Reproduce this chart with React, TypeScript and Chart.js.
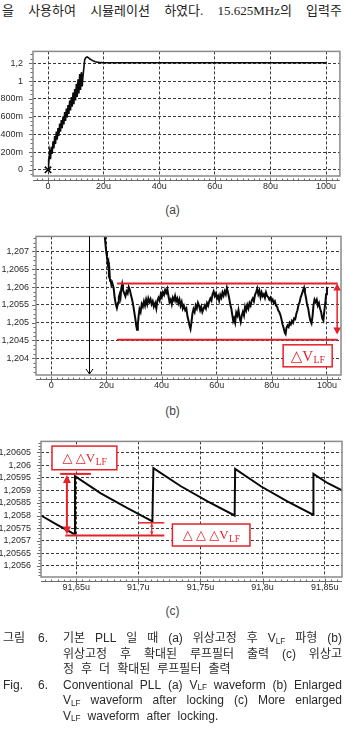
import React, { useEffect, useRef } from "react";
import { Chart, registerables } from "chart.js";

Chart.register(...registerables);

// ---------------- data ----------------
// (a) V_LF waveform, time in microseconds, value in volts
const A_TIME_US = [
  0, 0.15, 0.3, 0.6, 0.9, 1.2, 1.5, 1.8, 2.1, 2.4,
  2.7, 3.0, 3.3, 3.6, 3.9, 4.2, 4.5, 4.8, 5.1, 5.4,
  5.7, 6.0, 6.3, 6.6, 6.9, 7.2, 7.5, 7.8, 8.1, 8.4,
  8.7, 9.0, 9.3, 9.6, 9.9, 10.2, 10.5, 10.8, 11.1, 11.4,
  11.7, 12.0, 12.3, 12.6, 13.2, 13.6, 14.1, 14.6, 15.1, 15.6,
  16.2, 17.0, 17.7, 18.5, 19.5, 21, 100,
];
const A_VLF = [
  0, 0.12, 0.06, 0.2, 0.12, 0.26, 0.18, 0.32, 0.24, 0.38,
  0.29, 0.43, 0.34, 0.47, 0.38, 0.52, 0.43, 0.56, 0.47, 0.6,
  0.51, 0.65, 0.55, 0.69, 0.59, 0.73, 0.63, 0.78, 0.67, 0.82,
  0.71, 0.87, 0.74, 0.91, 0.78, 0.97, 0.82, 1.02, 0.86, 1.08,
  0.9, 1.1, 0.94, 1.06, 1.24, 1.265, 1.272, 1.262, 1.248, 1.238,
  1.228, 1.218, 1.213, 1.209, 1.207, 1.206, 1.2056,
];
const A_START_MARK = [0, 0];
const A_X_TICKS = [0, 20, 40, 60, 80, 100];
const A_X_LABELS = ["0", "20u", "40u", "60u", "80u", "100u"];
const A_Y_TICKS = [0, 0.2, 0.4, 0.6, 0.8, 1, 1.2];
const A_Y_LABELS = ["0", "200m", "400m", "600m", "800m", "1", "1,2"];

// (b) enlarged V_LF after locking
const B_TIME_US = [
  19.2, 19.6, 19.9, 20.2, 20.5, 20.7, 20.9, 21.1, 21.3, 21.5,
  21.8, 22.1, 22.6, 23.0, 23.4, 23.8, 24.2, 24.5, 24.8, 25.1,
  25.4, 25.7, 26.0, 26.4, 26.9, 27.3, 27.7, 28.1, 28.5, 28.9,
  29.3, 29.7, 30.1, 30.5, 30.8, 31.1, 31.4, 31.7, 32.0, 32.4,
  32.8, 33.2, 33.6, 34.0, 34.4, 34.8, 35.2, 35.6, 36.0, 36.4,
  36.8, 37.2, 37.7, 38.1, 38.5, 38.9, 39.3, 39.7, 40.1, 40.5,
  40.9, 41.3, 41.7, 42.1, 42.5, 42.9, 43.3, 43.7, 44.1, 44.5,
  44.9, 45.3, 45.7, 46.1, 46.5, 46.9, 47.3, 47.7, 48.1, 48.6,
  49.0, 49.4, 49.8, 50.2, 50.5, 50.8, 51.2, 51.6, 52.0, 52.4,
  52.8, 53.2, 53.6, 54.0, 54.4, 54.8, 55.3, 55.7, 56.1, 56.5,
  56.9, 57.3, 57.7, 58.1, 58.5, 58.9, 59.3, 59.7, 60.1, 60.5,
  60.9, 61.3, 61.7, 62.1, 62.5, 62.9, 63.3, 63.7, 64.1, 64.5,
  64.9, 65.3, 65.7, 66.0, 66.3, 66.7, 67.1, 67.5, 67.9, 68.3,
  68.7, 69.1, 69.5, 69.9, 70.3, 70.7, 71.1, 71.5, 71.9, 72.3,
  72.7, 73.1, 73.5, 73.9, 74.3, 74.7, 75.1, 75.5, 75.9, 76.3,
  76.7, 77.1, 77.5, 77.9, 78.3, 78.7, 79.1, 79.5, 79.9, 80.3,
  80.7, 81.1, 81.5, 81.9, 82.3, 82.7, 83.1, 83.5, 83.9, 84.3,
  84.7, 85.0, 85.3, 85.7, 86.1, 86.5, 86.9, 87.3, 87.7, 88.1,
  88.5, 88.9, 89.3, 89.7, 90.1, 90.5, 90.9, 91.3, 91.7, 92.0,
  92.4, 92.8, 93.2, 93.6, 94.0, 94.4, 94.8, 95.1, 95.5, 95.9,
  96.3, 96.7, 97.1, 97.5, 97.9, 98.3, 98.7, 99.0, 99.4, 99.7, 100.0,
];
const B_VLF = [
  1.2076, 1.20725, 1.207, 1.20685, 1.20665, 1.2067, 1.2064, 1.20645, 1.20618, 1.20622,
  1.20606, 1.20612, 1.20598, 1.2057, 1.20552, 1.20541, 1.20556, 1.20572, 1.2058, 1.2057,
  1.20596, 1.20608, 1.20592, 1.20584, 1.20574, 1.20588, 1.20582, 1.206, 1.20592, 1.20578,
  1.20565, 1.2055, 1.2053, 1.2051, 1.20492, 1.2048, 1.20495, 1.2052, 1.20538, 1.2053,
  1.20552, 1.20545, 1.2056, 1.20548, 1.20565, 1.20552, 1.20568, 1.20558, 1.20566, 1.20552,
  1.2056, 1.20545, 1.20555, 1.2054, 1.20562, 1.2057, 1.20562, 1.2058, 1.20572, 1.20585,
  1.20578, 1.20592, 1.20584, 1.20594, 1.20575, 1.20558, 1.20565, 1.20552, 1.2057, 1.20563,
  1.20575, 1.2056, 1.20568, 1.20555, 1.20565, 1.20548, 1.20558, 1.2054, 1.20548, 1.20535,
  1.2054, 1.20518, 1.20505, 1.2049, 1.20482, 1.20498, 1.20525, 1.20538, 1.2053, 1.20548,
  1.2054, 1.20556, 1.20548, 1.20535, 1.20545, 1.2053, 1.2054, 1.20548, 1.2054, 1.20555,
  1.20548, 1.2056, 1.20568, 1.20562, 1.2058, 1.20588, 1.20575, 1.20582, 1.20568, 1.20575,
  1.20562, 1.20578, 1.2057, 1.20585, 1.20576, 1.20588, 1.2058, 1.20598, 1.20585, 1.2057,
  1.20552, 1.2054, 1.2052, 1.20505, 1.20512, 1.205, 1.20528, 1.2052, 1.20535, 1.20515,
  1.20502, 1.2052, 1.2053, 1.2052, 1.20545, 1.20535, 1.2055, 1.2054, 1.20555, 1.20548,
  1.20562, 1.20568, 1.2056, 1.20578, 1.20585, 1.20596, 1.2058, 1.2059, 1.20572, 1.20585,
  1.20575, 1.2058, 1.2057, 1.20585, 1.20575, 1.20572, 1.20565, 1.2057, 1.2056, 1.20565,
  1.20555, 1.2056, 1.20548, 1.20545, 1.20535, 1.2053, 1.20522, 1.2051, 1.20495, 1.20485,
  1.20472, 1.20468, 1.20485, 1.20492, 1.20488, 1.205, 1.20495, 1.20505, 1.205, 1.20512,
  1.2051, 1.20525, 1.20535, 1.2055, 1.20558, 1.20572, 1.2058, 1.2059, 1.20598, 1.20585,
  1.2057, 1.2055, 1.2054, 1.2052, 1.20505, 1.20498, 1.2052, 1.20548, 1.20565, 1.20558,
  1.20565, 1.20548, 1.20555, 1.2054, 1.2053, 1.20512, 1.20506, 1.2053, 1.20555, 1.2058, 1.206,
];
const B_X_TICKS = [0, 20, 40, 60, 80, 100];
const B_X_LABELS = ["0", "20u", "40u", "60u", "80u", "100u"];
const B_Y_TICKS = [1.204, 1.2045, 1.205, 1.2055, 1.206, 1.2065, 1.207];
const B_Y_LABELS = ["1,204", "1,2045", "1,205", "1,2055", "1,206", "1,2065", "1,207"];
// (b) annotations, in data units
const B_LOCK_US = 13.5;
const B_BAND_TOP = 1.206098;
const B_BAND_BOTTOM = 1.204522;
const B_BAND_FROM_US = 23.85;
const B_BAND_TO_US = 103.9;
const B_ARROW_US = 103.7;
const B_ARROW_LOW_TIP = 1.204668;
const B_BOX = [84.1, 101.9, 1.204378, 1.20376];

// (c) more enlarged V_LF
const C_TIME_US = [
  91.6217, 91.6348, 91.6478, 91.6488, 91.649, 91.6698, 91.6905, 91.7113, 91.7117, 91.7121,
  91.7339, 91.7557, 91.7775, 91.7777, 91.7779, 91.7989, 91.8199, 91.8406, 91.8408, 91.841,
  91.8525, 91.8639,
];
const C_VLF = [
  1.2058, 1.205763, 1.205728, 1.205728, 1.205956, 1.205888, 1.205831, 1.205777, 1.205777, 1.205988,
  1.205917, 1.205856, 1.2058, 1.2058, 1.205985, 1.205915, 1.205856, 1.205803, 1.205803, 1.205965,
  1.205928, 1.2059,
];
const C_X_TICKS = [91.65, 91.7, 91.75, 91.8, 91.85];
const C_X_LABELS = ["91,65u", "91,7u", "91,75u", "91,8u", "91,85u"];
const C_Y_TICKS = [1.2056, 1.20565, 1.2057, 1.20575, 1.2058, 1.20585, 1.2059, 1.20595, 1.206, 1.20605];
const C_Y_LABELS = ["1,2056", "1,20565", "1,2057", "1,20575", "1,2058", "1,20585", "1,2059", "1,20595", "1,206", "1,20605"];
// (c) annotations, in data units
const C_DD_TOP = 1.205965;
const C_DD_BOTTOM = 1.205721;
const C_DD_TOPLINE_US = [91.6371, 91.6618];
const C_DD_LOWLINE_US = [91.6412, 91.7209];
const C_DD_ARROW_US = 91.6425;
const C_DDD_TOP = 1.205771;
const C_DDD_LINE_US = [91.7, 91.7209];
const C_DDD_MARK_US = 91.7108;
const C_BOX1 = [91.6305, 91.6827, 1.2060753, 1.2059815];
const C_BOX2 = [91.7274, 91.7898, 1.2057662, 1.205679];

const TOP_WORDS = ["을", "사용하여", "시뮬레이션", "하였다.", "15.625MHz의", "입력주"];
const CAPTION_KO = [
  ["기본", "PLL", "일", "때", "(a)", "위상고정", "후", "V_LF", "파형", "(b)"],
  ["위상고정", "후", "확대된", "루프필터", "출력", "(c)", "위상고"],
  ["정", "후", "더", "확대된", "루프필터", "출력"],
];
const CAPTION_EN = [
  ["Conventional", "PLL", "(a)", "V_LF", "waveform", "(b)", "Enlarged"],
  ["V_LF", "waveform", "after", "locking", "(c)", "More", "enlarged"],
  ["V_LF", "waveform", "after", "locking."],
];

// ---------------- styling / helpers ----------------
const RED = "#e4222a";
const LABEL_FONT = "'Liberation Sans', Arial, sans-serif";
const SERIF = "'Liberation Serif', 'DejaVu Serif', serif";
const PAGE_W = 346;

type AxisSpec = { min: number; max: number; ticks: number[]; labels: string[]; minorDiv: number; pad: number };
type Spec = {
  canvasTop: number;
  canvasHeight: number;
  plot: { left: number; right: number; top: number; bottom: number };
  x: AxisSpec;
  y: AxisSpec;
  datasets: any[];
  annotate?: (chart: any, ctx: CanvasRenderingContext2D) => void;
};

function series(xs: number[], ys: number[], width: number) {
  return {
    data: xs.map((x, i) => ({ x, y: ys[i] })),
    borderColor: "#0a0a0a",
    borderWidth: width,
    pointRadius: 0,
    tension: 0,
    fill: false,
  };
}

function minorTicks(ax: AxisSpec) {
  const step = (ax.ticks[1] - ax.ticks[0]) / ax.minorDiv;
  const anchor = ax.ticks[0];
  const k0 = Math.ceil((ax.min - anchor) / step - 1e-6);
  const k1 = Math.floor((ax.max - anchor) / step + 1e-6);
  const out: { v: number; major: boolean }[] = [];
  for (let k = k0; k <= k1; k++) {
    out.push({ v: anchor + k * step, major: ((k % ax.minorDiv) + ax.minorDiv) % ax.minorDiv === 0 });
  }
  return out;
}

function scaleOptions(ax: AxisSpec, horizontal: boolean, size: number) {
  return {
    type: "linear",
    position: horizontal ? "bottom" : "left",
    min: ax.min,
    max: ax.max,
    afterBuildTicks: (s: any) => {
      s.ticks = ax.ticks.map((v) => ({ value: v }));
    },
    afterFit: (s: any) => {
      if (horizontal) s.height = size;
      else s.width = size;
    },
    ticks: {
      autoSkip: false,
      maxRotation: 0,
      minRotation: 0,
      padding: ax.pad,
      color: "#2a2a2a",
      font: { family: LABEL_FONT, size: 9 },
      callback: (_v: any, i: number) => ax.labels[i],
    },
    grid: { color: "#3a3a3a", lineWidth: 1, drawTicks: false },
    border: { display: false, dash: [3, 2] },
  };
}

function hline(ctx: CanvasRenderingContext2D, x0: number, x1: number, y: number) {
  ctx.beginPath();
  ctx.moveTo(x0, y);
  ctx.lineTo(x1, y);
  ctx.stroke();
}
function vline(ctx: CanvasRenderingContext2D, x: number, y0: number, y1: number) {
  ctx.beginPath();
  ctx.moveTo(x, y0);
  ctx.lineTo(x, y1);
  ctx.stroke();
}
function head(ctx: CanvasRenderingContext2D, x: number, tipY: number, dir: number, len: number, half: number) {
  ctx.beginPath();
  ctx.moveTo(x, tipY);
  ctx.lineTo(x - half, tipY - dir * len);
  ctx.lineTo(x + half, tipY - dir * len);
  ctx.closePath();
  ctx.fill();
}
function redBox(
  ctx: CanvasRenderingContext2D,
  x0: number, x1: number, y0: number, y1: number,
  prefix: string, big: number, small: number
) {
  const l = Math.min(x0, x1), r = Math.max(x0, x1), t = Math.min(y0, y1), b = Math.max(y0, y1);
  ctx.fillStyle = "#fff";
  ctx.fillRect(l, t, r - l, b - t);
  ctx.strokeStyle = RED;
  ctx.lineWidth = 1.5;
  ctx.strokeRect(l, t, r - l, b - t);
  ctx.font = `${big}px ${SERIF}`;
  const w1 = ctx.measureText(prefix + "V").width;
  ctx.font = `${small}px ${SERIF}`;
  const w2 = ctx.measureText("LF").width;
  const sx = (l + r) / 2 - (w1 + w2) / 2;
  const base = (t + b) / 2 + big * 0.33;
  ctx.fillStyle = RED;
  ctx.textAlign = "left";
  ctx.textBaseline = "alphabetic";
  ctx.font = `${big}px ${SERIF}`;
  ctx.fillText(prefix + "V", sx, base);
  ctx.font = `${small}px ${SERIF}`;
  ctx.fillText("LF", sx + w1 + 0.5, base + small * 0.25);
}

function buildChart(canvas: HTMLCanvasElement, spec: Spec) {
  const p = spec.plot;
  const deco = {
    id: "deco",
    afterDatasetsDraw(chart: any) {
      const ctx: CanvasRenderingContext2D = chart.ctx;
      const a = chart.chartArea;
      const xs = chart.scales.x;
      const ys = chart.scales.y;
      ctx.save();
      // minor ticks on the left edge
      ctx.strokeStyle = "#6a6a6a";
      ctx.lineWidth = 1;
      ctx.beginPath();
      for (const t of minorTicks(spec.y)) {
        const py = Math.round(ys.getPixelForValue(t.v)) + 0.5;
        ctx.moveTo(a.left - (t.major ? 4 : 2.5), py);
        ctx.lineTo(a.left, py);
      }
      ctx.stroke();
      // separate time axis under the plot
      const ay = Math.round(a.bottom) + 4.5;
      ctx.beginPath();
      ctx.moveTo(a.left, ay);
      ctx.lineTo(a.right, ay);
      for (const t of minorTicks(spec.x)) {
        const px = Math.round(xs.getPixelForValue(t.v)) + 0.5;
        if (px < a.left - 0.5 || px > a.right + 0.5) continue;
        ctx.moveTo(px, ay - (t.major ? 3 : 2));
        ctx.lineTo(px, ay + (t.major ? 3 : 0));
      }
      ctx.stroke();
      // plot frame
      ctx.strokeStyle = "#8a8a8a";
      ctx.lineWidth = 1.5;
      ctx.strokeRect(a.left, a.top, a.right - a.left, a.bottom - a.top);
      if (spec.annotate) spec.annotate(chart, ctx);
      ctx.restore();
    },
  };
  return new Chart(canvas, {
    type: "line",
    data: { datasets: spec.datasets },
    options: {
      responsive: false,
      animation: false,
      devicePixelRatio: 1,
      events: [],
      layout: { padding: { left: 0, right: PAGE_W - p.right, top: p.top - spec.canvasTop, bottom: 0 } },
      plugins: { legend: { display: false }, tooltip: { enabled: false } },
      scales: {
        x: scaleOptions(spec.x, true, spec.canvasHeight - (p.bottom - spec.canvasTop)),
        y: scaleOptions(spec.y, false, p.left),
      },
    } as any,
    plugins: [deco],
  });
}

// ---------------- chart specs ----------------
const SPEC_A: Spec = {
  canvasTop: 36,
  canvasHeight: 160,
  plot: { left: 33, right: 341, top: 43, bottom: 176 },
  x: { min: -5.4, max: 105, ticks: A_X_TICKS, labels: A_X_LABELS, minorDiv: 10, pad: 5 },
  y: { min: -0.07, max: 1.334, ticks: A_Y_TICKS, labels: A_Y_LABELS, minorDiv: 4, pad: 10 },
  datasets: [
    series(A_TIME_US, A_VLF, 1.6),
    {
      data: [{ x: A_START_MARK[0], y: A_START_MARK[1] }],
      showLine: false,
      pointStyle: "crossRot",
      pointRadius: 4.5,
      pointBorderColor: "#000",
      pointBackgroundColor: "rgba(0,0,0,0)",
      pointBorderWidth: 1.6,
    },
  ],
};

const SPEC_B: Spec = {
  canvasTop: 224,
  canvasHeight: 172,
  plot: { left: 36, right: 341, top: 232, bottom: 375 },
  x: { min: -5.55, max: 105.1, ticks: B_X_TICKS, labels: B_X_LABELS, minorDiv: 10, pad: 5 },
  y: { min: 1.20353, max: 1.207424, ticks: B_Y_TICKS, labels: B_Y_LABELS, minorDiv: 4, pad: 7 },
  datasets: [series(B_TIME_US, B_VLF, 2)],
  annotate: (chart, ctx) => {
    const X = (v: number) => chart.scales.x.getPixelForValue(v);
    const Y = (v: number) => chart.scales.y.getPixelForValue(v);
    const a = chart.chartArea;
    // lock-in marker arrow
    const lx = Math.round(X(B_LOCK_US)) + 0.5;
    ctx.strokeStyle = "#000";
    ctx.lineWidth = 1;
    vline(ctx, lx, a.top, a.bottom - 1);
    ctx.beginPath();
    ctx.moveTo(lx - 3.5, a.bottom - 6);
    ctx.lineTo(lx, a.bottom - 1);
    ctx.lineTo(lx + 3.5, a.bottom - 6);
    ctx.stroke();
    // ripple band
    ctx.strokeStyle = RED;
    ctx.fillStyle = RED;
    ctx.lineWidth = 2;
    hline(ctx, X(B_BAND_FROM_US), X(B_BAND_TO_US), Y(B_BAND_TOP));
    hline(ctx, X(B_BAND_FROM_US), X(B_BAND_TO_US), Y(B_BAND_BOTTOM));
    const ax = X(B_ARROW_US);
    ctx.lineWidth = 1.5;
    vline(ctx, ax, Y(B_BAND_TOP) + 5, Y(B_ARROW_LOW_TIP) - 5);
    head(ctx, ax, Y(B_BAND_TOP), -1, 7, 3.8);
    head(ctx, ax, Y(B_ARROW_LOW_TIP), 1, 7, 3.8);
    redBox(ctx, X(B_BOX[0]), X(B_BOX[1]), Y(B_BOX[2]), Y(B_BOX[3]), "△", 15, 10);
  },
};

const SPEC_C: Spec = {
  canvasTop: 426,
  canvasHeight: 172,
  plot: { left: 41, right: 342, top: 433, bottom: 577 },
  x: { min: 91.62165, max: 91.8639, ticks: C_X_TICKS, labels: C_X_LABELS, minorDiv: 10, pad: 5 },
  y: { min: 1.2055561, max: 1.2060939, ticks: C_Y_TICKS, labels: C_Y_LABELS, minorDiv: 4, pad: 10 },
  datasets: [series(C_TIME_US, C_VLF, 2)],
  annotate: (chart, ctx) => {
    const X = (v: number) => chart.scales.x.getPixelForValue(v);
    const Y = (v: number) => chart.scales.y.getPixelForValue(v);
    ctx.strokeStyle = RED;
    ctx.fillStyle = RED;
    ctx.lineWidth = 2;
    hline(ctx, X(C_DD_TOPLINE_US[0]), X(C_DD_TOPLINE_US[1]), Y(C_DD_TOP));
    hline(ctx, X(C_DD_LOWLINE_US[0]), X(C_DD_LOWLINE_US[1]), Y(C_DD_BOTTOM));
    ctx.lineWidth = 1.5;
    hline(ctx, X(C_DDD_LINE_US[0]), X(C_DDD_LINE_US[1]), Y(C_DDD_TOP));
    const ax = X(C_DD_ARROW_US);
    ctx.lineWidth = 2;
    vline(ctx, ax, Y(C_DD_TOP) + 6, Y(C_DD_BOTTOM) - 6);
    head(ctx, ax, Y(C_DD_TOP) + 1, -1, 8, 4);
    head(ctx, ax, Y(C_DD_BOTTOM) - 1, 1, 8, 4);
    const mx = X(C_DDD_MARK_US);
    ctx.lineWidth = 1.2;
    vline(ctx, mx, Y(C_DDD_TOP), Y(C_DD_BOTTOM));
    head(ctx, mx, Y(C_DDD_TOP) + 1, -1, 3, 1.8);
    head(ctx, mx, Y(C_DD_BOTTOM) - 1, 1, 3, 1.8);
    redBox(ctx, X(C_BOX1[0]), X(C_BOX1[1]), Y(C_BOX1[2]), Y(C_BOX1[3]), "△ △", 13, 9.5);
    redBox(ctx, X(C_BOX2[0]), X(C_BOX2[1]), Y(C_BOX2[2]), Y(C_BOX2[3]), "△ △ △", 13, 9.5);
  },
};

// ---------------- components ----------------
function ChartCanvas({ spec }: { spec: Spec }) {
  const ref = useRef<HTMLCanvasElement>(null);
  useEffect(() => {
    if (!ref.current) return;
    const chart = buildChart(ref.current, spec);
    return () => chart.destroy();
  }, [spec]);
  return (
    <canvas
      ref={ref}
      width={PAGE_W}
      height={spec.canvasHeight}
      style={{ position: "absolute", left: 0, top: spec.canvasTop, width: PAGE_W, height: spec.canvasHeight }}
    />
  );
}

function Token({ t }: { t: string }) {
  if (t === "V_LF") {
    return (
      <span>
        V<span style={{ fontSize: "0.68em", position: "relative", top: "0.22em" }}>LF</span>
      </span>
    );
  }
  return <span>{t}</span>;
}

const CAPTION_FONT = "12px 'Liberation Sans', 'Noto Sans CJK KR', Arial, sans-serif";
const LINE_H = 15.5;
const CAPTION_TOP = 631;

function CaptionLine({ words, row, justify }: { words: string[]; row: number; justify: boolean }) {
  return (
    <div
      style={{
        position: "absolute",
        left: 63,
        width: 279,
        top: CAPTION_TOP + row * LINE_H,
        height: LINE_H,
        lineHeight: `${LINE_H}px`,
        display: "flex",
        justifyContent: justify ? "space-between" : "flex-start",
        gap: justify ? 0 : 7,
        whiteSpace: "nowrap",
      }}
    >
      {words.map((w, i) => (
        <Token key={i} t={w} />
      ))}
    </div>
  );
}

function SubLabel({ text, top }: { text: string; top: number }) {
  return (
    <div
      style={{
        position: "absolute",
        left: 0,
        width: 345,
        top,
        height: 16,
        lineHeight: "16px",
        textAlign: "center",
        font: "12px 'Liberation Sans', Arial, sans-serif",
        color: "#444",
      }}
    >
      {text}
    </div>
  );
}

export default function App() {
  return (
    <div
      style={{
        position: "absolute",
        left: 0,
        top: 0,
        width: PAGE_W,
        height: 738,
        background: "#fff",
        overflow: "hidden",
        color: "#222",
      }}
    >
      <div
        style={{
          position: "absolute",
          left: 2,
          top: 0,
          width: 340,
          height: 17,
          lineHeight: "17px",
          display: "flex",
          justifyContent: "space-between",
          font: "13px 'Liberation Serif', 'Noto Sans CJK KR', serif",
          whiteSpace: "nowrap",
        }}
      >
        {TOP_WORDS.map((w, i) => (
          <span key={i}>{w}</span>
        ))}
      </div>

      <ChartCanvas spec={SPEC_A} />
      <SubLabel text="(a)" top={203} />
      <ChartCanvas spec={SPEC_B} />
      <SubLabel text="(b)" top={404} />
      <ChartCanvas spec={SPEC_C} />
      <SubLabel text="(c)" top={604} />

      <div style={{ position: "absolute", left: 0, top: 0, width: PAGE_W, height: 738, font: CAPTION_FONT, color: "#2a2a2a" }}>
        <div style={{ position: "absolute", left: 3, top: CAPTION_TOP, lineHeight: `${LINE_H}px` }}>그림</div>
        <div style={{ position: "absolute", left: 38, top: CAPTION_TOP, lineHeight: `${LINE_H}px` }}>6.</div>
        {CAPTION_KO.map((words, i) => (
          <CaptionLine key={"ko" + i} words={words} row={i} justify={i < CAPTION_KO.length - 1} />
        ))}
        <div style={{ position: "absolute", left: 3, top: CAPTION_TOP + 3 * LINE_H, lineHeight: `${LINE_H}px` }}>Fig.</div>
        <div style={{ position: "absolute", left: 38, top: CAPTION_TOP + 3 * LINE_H, lineHeight: `${LINE_H}px` }}>6.</div>
        {CAPTION_EN.map((words, i) => (
          <CaptionLine key={"en" + i} words={words} row={3 + i} justify={i < CAPTION_EN.length - 1} />
        ))}
      </div>
    </div>
  );
}
